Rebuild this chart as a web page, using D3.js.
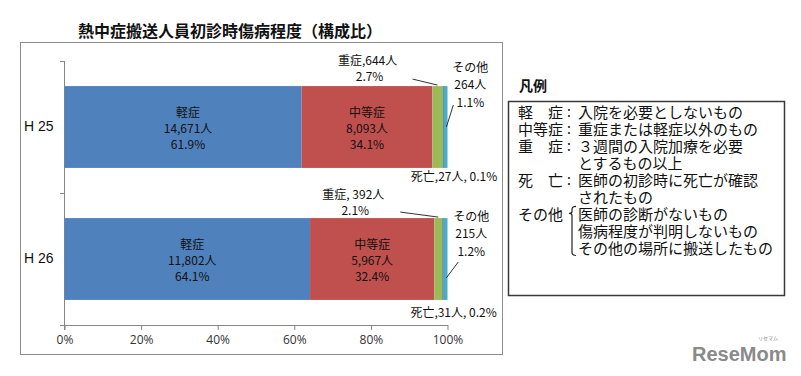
<!DOCTYPE html>
<html>
<head>
<meta charset="utf-8">
<script src="https://cdn.jsdelivr.net/npm/d3@7"></script>
<style>
  body { margin: 0; background: #fff; }
  text { font-family: "Noto Sans CJK JP", "Noto Sans", sans-serif; fill: #111; }
</style>
</head>
<body>
<div id="chart"></div>
<script>
// Data
const years = ["H 25", "H 26"];
const categories = ["軽症", "中等症", "重症", "死亡", "その他"];
const countsH25 = [14671, 8093, 644, 27, 264];
const pctH25 = [61.9, 34.1, 2.7, 0.1, 1.1];
const countsH26 = [11802, 5967, 392, 31, 215];
const pctH26 = [64.1, 32.4, 2.1, 0.2, 1.2];
const severeSep = [",", ", "];
const xTicks = [0, 20, 40, 60, 80, 100];
const colors = ["#4F81BD", "#C0504D", "#9BBB59", "#5b5b68", "#4BACC6"];

const legendTerms = ["軽　症", "中等症", "重　症", "", "死　亡", "", "その他", "", ""];
const legendTexts = ["入院を必要としないもの", "重症または軽症以外のもの", "３週間の入院加療を必要",
  "とするもの以上", "医師の初診時に死亡が確認", "されたもの", "医師の診断がないもの",
  "傷病程度が判明しないもの", "その他の場所に搬送したもの"];

const width = 801, height = 376;
const svg = d3.select("#chart").append("svg")
    .attr("width", width)
    .attr("height", height);

// chart frame
svg.append("rect")
    .attr("x", 20.5).attr("y", 42.5)
    .attr("width", 482).attr("height", 312)
    .attr("fill", "none").attr("stroke", "#8c8c8c");

// title
svg.append("text")
    .attr("x", 78).attr("y", 30)
    .attr("dominant-baseline", "central")
    .style("font-size", "16px").style("font-weight", "bold")
    .text("熱中症搬送人員初診時傷病程度（構成比）");

// build rows
const rows = years.map((yr, i) => {
    const counts = [countsH25, countsH26][i];
    const pcts = [pctH25, pctH26][i];
    const total = d3.sum(counts);
    let acc = 0;
    const segs = counts.map((c, j) => {
        const share = c / total * 100;
        const s = { year: yr, row: i, idx: j, name: categories[j], count: c, pct: pcts[j], x0: acc, x1: acc + share };
        acc += share;
        return s;
    });
    return { year: yr, segs: segs };
});

const x = d3.scaleLinear().domain([0, 100]).range([64.5, 447.5]);
const y = d3.scaleBand().domain(years).range([61, 325]).paddingInner(0.38).paddingOuter(0.19);

// axes
const axisColor = "#868686";
const xAxis = svg.append("g")
    .attr("transform", "translate(0,325)")
    .call(d3.axisBottom(x).tickValues(xTicks).tickFormat(d => d + "%").tickSize(5).tickSizeOuter(0));
xAxis.select(".domain").attr("stroke", axisColor);
xAxis.selectAll(".tick line").attr("stroke", axisColor);
xAxis.selectAll(".tick text")
    .attr("dy", "0.9em")
    .style("font-family", "'Open Sans', sans-serif").style("font-size", "12px").style("fill", "#333");

const yAxis = svg.append("g")
    .attr("transform", "translate(64.5,0)")
    .call(d3.axisLeft(y).tickSize(0));
yAxis.select(".domain").remove();
yAxis.selectAll(".tick text")
    .attr("x", -11)
    .style("font-family", "'Liberation Sans', sans-serif").style("font-size", "14px").style("fill", "#111");
// y axis line with boundary ticks
const yBounds = years.map(d => y(d) - y.step() * y.paddingInner() / 2).concat([325]);
svg.append("line")
    .attr("x1", 64.5).attr("x2", 64.5).attr("y1", 61).attr("y2", 330)
    .attr("stroke", axisColor);
svg.selectAll(".ytick").data(yBounds).join("line")
    .attr("x1", 60).attr("x2", 64.5)
    .attr("y1", d => Math.round(d) + 0.5).attr("y2", d => Math.round(d) + 0.5)
    .attr("stroke", axisColor);

// bars
const allSegs = rows.flatMap(r => r.segs);
svg.selectAll(".seg").data(allSegs).join("rect")
    .attr("x", d => x(d.x0))
    .attr("y", d => y(d.year))
    .attr("width", d => Math.max(x(d.x1) - x(d.x0), d.idx === 3 ? 1.2 : 0))
    .attr("height", y.bandwidth())
    .attr("fill", d => colors[d.idx]);

// inside labels for 軽症 and 中等症
const fmt = d3.format(",");
const inside = allSegs.filter(d => d.idx < 2);
const insideG = svg.selectAll(".inlab").data(inside).join("text")
    .attr("x", d => x((d.x0 + d.x1) / 2) + (d.idx === 0 ? 5 : 0))
    .attr("y", d => y(d.year) + y.bandwidth() / 2)
    .attr("text-anchor", "middle")
    .style("font-size", "12px");
insideG.selectAll("tspan")
    .data(d => [d.name, fmt(d.count) + "人", d.pct.toFixed(1) + "%"])
    .join("tspan")
    .attr("x", function() { return d3.select(this.parentNode).attr("x"); })
    .attr("dy", (d, i) => i === 0 ? "-1.3em" : "1.35em")
    .attr("dominant-baseline", "central")
    .text(d => d);

// callouts (重症 / その他 / 死亡), offsets are layout only
const severeOff = [{ dx: -70, dy: -27, lx: -25, ly: -7 }, { dx: -85, dy: -25, lx: -38, ly: -6 }];
const otherOff = [{ dx: 25, dy: -61, lx: 8, ly: -22, ey: 0 }, { dx: 26, dy: -44, lx: 13, ly: 3, ey: 19 }];
const deathOff = [8, 12];

rows.forEach((r, i) => {
    const sev = r.segs[2], oth = r.segs[4], dth = r.segs[3];
    const top = y(r.year), mid = top + y.bandwidth() / 2, bot = top + y.bandwidth();

    // 重症
    const sx = x((sev.x0 + sev.x1) / 2);
    const so = severeOff[i];
    const st = svg.append("text").attr("text-anchor", "middle").style("font-size", "12px");
    st.append("tspan").attr("x", sx + so.dx).attr("y", top + so.dy).attr("dominant-baseline", "central")
        .text(sev.name + severeSep[i] + sev.count + "人");
    st.append("tspan").attr("x", sx + so.dx + 2).attr("y", top + so.dy + 16).attr("dominant-baseline", "central")
        .text(sev.pct.toFixed(1) + "%");
    svg.append("line")
        .attr("x1", sx + so.lx).attr("y1", top + so.ly)
        .attr("x2", sx).attr("y2", top - 1)
        .attr("stroke", "#333").attr("stroke-width", 1);

    // その他
    const ox = x((oth.x0 + oth.x1) / 2);
    const oo = otherOff[i];
    const ot = svg.append("text").attr("text-anchor", "middle").style("font-size", "12px");
    [oth.name, oth.count + "人", oth.pct.toFixed(1) + "%"].forEach((t, k) => {
        ot.append("tspan").attr("x", ox + oo.dx).attr("y", mid + oo.dy + k * 17.5)
            .attr("dominant-baseline", "central").text(t);
    });
    svg.append("line")
        .attr("x1", ox + oo.lx).attr("y1", mid + oo.ly)
        .attr("x2", ox + 1).attr("y2", mid + oo.ey)
        .attr("stroke", "#333").attr("stroke-width", 1);

    // 死亡
    svg.append("text")
        .attr("x", x(dth.x0) - 32).attr("y", bot + deathOff[i])
        .attr("dominant-baseline", "central")
        .style("font-size", "12px")
        .text(dth.name + "," + dth.count + "人, " + dth.pct.toFixed(1) + "%");
});

// legend panel
svg.append("text")
    .attr("x", 519).attr("y", 85)
    .attr("dominant-baseline", "central")
    .style("font-size", "14px").style("font-weight", "bold")
    .text("凡例");
svg.append("rect")
    .attr("x", 508.5).attr("y", 101.5)
    .attr("width", 276).attr("height", 194)
    .attr("fill", "none").attr("stroke", "#3a3a3a").attr("stroke-width", 1.5);

const lineY = d3.scaleLinear().domain([0, legendTexts.length - 1]).range([111, 247.5]);
const legendText = svg.append("text").style("font-size", "15px");
legendTerms.forEach((t, i) => {
    if (t) {
        legendText.append("tspan").attr("x", 518).attr("y", lineY(i))
            .attr("dominant-baseline", "central").text(t);
        if (t !== "その他") {
            legendText.append("tspan").attr("x", 567).attr("y", lineY(i))
                .attr("dominant-baseline", "central").style("font-size", "14px").text(":");
        }
    }
    legendText.append("tspan").attr("x", 578).attr("y", lineY(i))
        .attr("dominant-baseline", "central").text(legendTexts[i]);
});

// brace for その他
const bTop = lineY(6) - 7, bMid = lineY(6), bBot = lineY(8) + 8;
svg.append("path")
    .attr("d", `M576,${bTop} Q572,${bTop} 572,${bTop + 3} L572,${bMid - 2} Q572,${bMid} 569,${bMid} Q572,${bMid} 572,${bMid + 2} L572,${bBot - 3} Q572,${bBot} 576,${bBot}`)
    .attr("fill", "none").attr("stroke", "#222").attr("stroke-width", 1.2);

// watermark
svg.append("text")
    .attr("x", 692).attr("y", 361)
    .style("font-family", "'Liberation Sans', sans-serif")
    .style("font-size", "20px").style("font-weight", "bold")
    .style("fill", "#8a8a8a")
    .text("ReseMom");
svg.append("text")
    .attr("x", 768).attr("y", 340)
    .attr("text-anchor", "middle")
    .style("font-size", "5px").style("fill", "#8a8a8a")
    .text("リセマム");
</script>
</body>
</html>
